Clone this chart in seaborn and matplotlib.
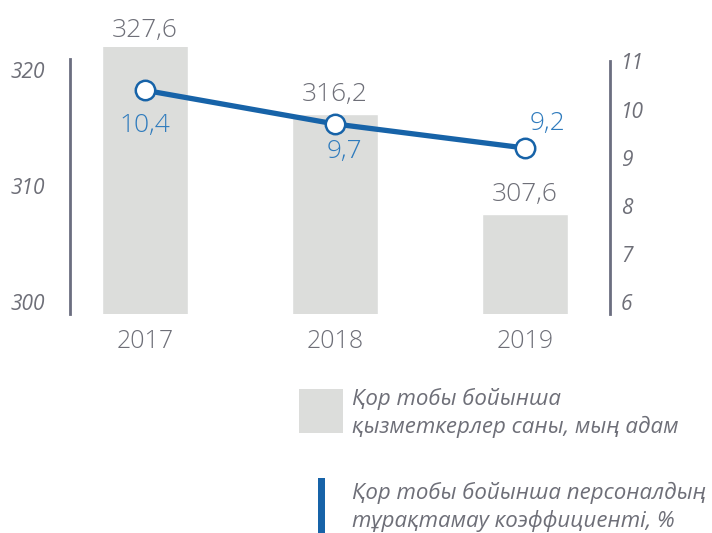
import matplotlib
matplotlib.use("Agg")
import matplotlib.pyplot as plt
import seaborn as sns
import pandas as pd
from matplotlib.patches import Rectangle

# data
years = ["2017", "2018", "2019"]
staff = [327.6, 316.2, 307.6]          # thousand people
turnover = [10.4, 9.7, 9.2]            # %
staff_labels = ["327,6", "316,2", "307,6"]
turnover_labels = ["10,4", "9,7", "9,2"]
legend_labels = ["Қор тобы бойынша\nқызметкерлер саны, мың адам",
                 "Қор тобы бойынша персоналдың\nтұрақтамау коэффициенті, %"]

BAR = "#dcdddb"
BLUE = "#1763a8"
BLUE_TXT = "#2f7bbd"
GREY_TXT = "#6e6f78"
SPINE = "#6b6e80"

sns.set_style("white")
plt.rcParams["font.family"] = ["Open Sans", "Noto Sans", "DejaVu Sans"]
plt.rcParams["font.weight"] = "light"

df = pd.DataFrame({"year": years, "staff": staff, "turnover": turnover})

fig = plt.figure(figsize=(7.12, 5.33), dpi=100)
ax = fig.add_axes([0.0983, 0.4109, 0.7584, 0.5009])

sns.barplot(data=df, x="year", y="staff", color=BAR, width=0.45,
            saturation=1, ax=ax)
ax.set_ylim(299, 322)
ax.set_xlim(-0.395, 2.447)
ax.set_yticks([300, 310, 320])
ax.set_xlabel("")
ax.set_ylabel("")
for s in ["top", "right", "bottom"]:
    ax.spines[s].set_visible(False)
ax.spines["left"].set_color(SPINE)
ax.spines["left"].set_linewidth(2)
ax.spines["left"].set_bounds(299, 321)
ax.tick_params(axis="y", length=0, pad=18, labelsize=15, labelcolor=GREY_TXT)
ax.tick_params(axis="x", length=0, pad=11, labelsize=18, labelcolor=GREY_TXT)
for t in ax.get_yticklabels():
    t.set_fontstyle("italic")
    t.set_fontweight("normal")

# bar value labels (2017 bar is clipped at the top)
label_base = [min(v, 322) for v in staff]
for i, (v, lab) in enumerate(zip(label_base, staff_labels)):
    dy = 12 if i == 0 else 14
    ax.annotate(lab, (i, v), xytext=(0, dy), textcoords="offset points",
                ha="center", va="center", fontsize=19, color=GREY_TXT,
                annotation_clip=False)

ax2 = ax.twinx()
sns.lineplot(x=[0, 1, 2], y=turnover, ax=ax2, color=BLUE, linewidth=3.8,
             marker="o", markersize=14, markerfacecolor="white",
             markeredgecolor=BLUE, markeredgewidth=1.8, zorder=5)
ax2.set_ylim(5.75, 11.3)
ax2.set_yticks([6, 7, 8, 9, 10, 11])
for s in ["top", "left", "bottom"]:
    ax2.spines[s].set_visible(False)
ax2.spines["right"].set_color(SPINE)
ax2.spines["right"].set_linewidth(2)
ax2.spines["right"].set_bounds(5.75, 11.0)
ax2.tick_params(axis="y", length=0, pad=8, labelsize=15, labelcolor=GREY_TXT)
for t in ax2.get_yticklabels():
    t.set_fontstyle("italic")
    t.set_fontweight("normal")
ax2.set_ylabel("")

offsets = [(0, -25), (7, -20), (16, 18)]
for i, (v, lab) in enumerate(zip(turnover, turnover_labels)):
    dx, dy = offsets[i]
    ax2.annotate(lab, (i, v), xytext=(dx, dy), textcoords="offset points",
                 ha="center", va="center", fontsize=19, color=BLUE_TXT)

# legend
fig.add_artist(Rectangle((299 / 712, 1 - 433 / 533), 44 / 712, 44 / 533,
                         transform=fig.transFigure, color=BAR, lw=0))
fig.text(352 / 712, 1 - 413 / 533, legend_labels[0], ha="left", va="center",
         fontsize=16, style="italic", weight="normal", color=GREY_TXT,
         linespacing=1.35)
fig.add_artist(Rectangle((318 / 712, 0), 7 / 712, 55 / 533,
                         transform=fig.transFigure, color=BLUE, lw=0))
fig.text(352 / 712, 1 - 507 / 533, legend_labels[1], ha="left", va="center",
         fontsize=16, style="italic", weight="normal", color=GREY_TXT,
         linespacing=1.35)

fig.savefig("out.png", dpi=100)
